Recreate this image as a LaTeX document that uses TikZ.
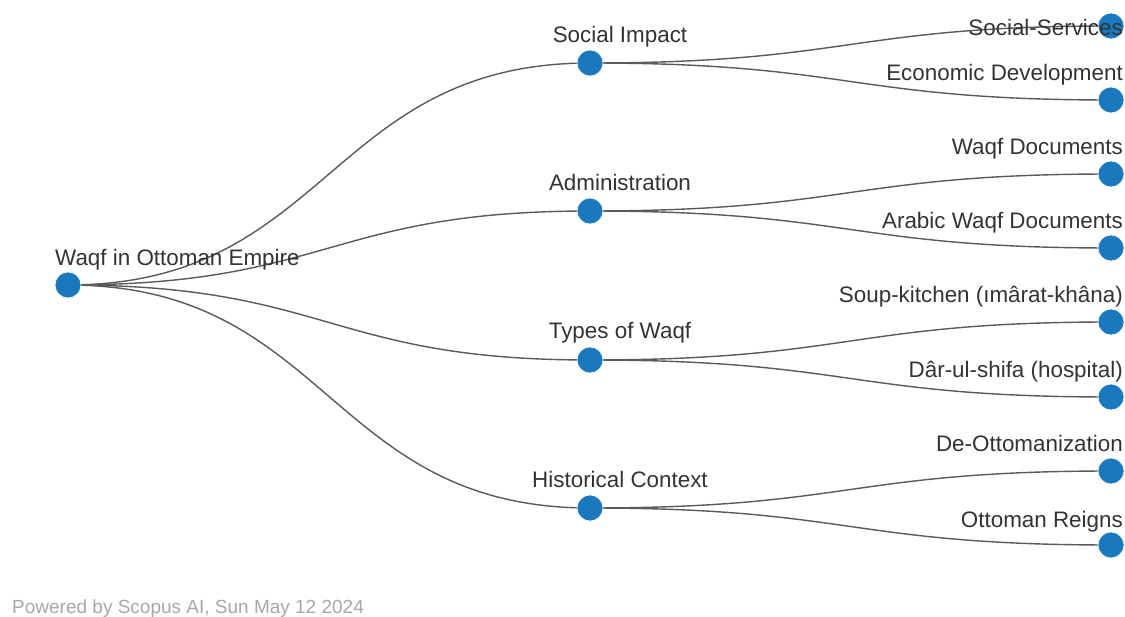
\documentclass[tikz,border=0pt]{standalone}
\usepackage{fontspec}
\setmainfont{Liberation Sans}
\usetikzlibrary{backgrounds,calc}
\definecolor{nodeblue}{HTML}{1A78BE}
\definecolor{edgegray}{HTML}{5A5A5A}
\definecolor{txt}{HTML}{333333}
\definecolor{foot}{HTML}{A8A8A8}
\tikzset{
  dot/.style={circle, fill=nodeblue, minimum size=26pt, inner sep=0pt, draw=white, line width=0.6pt},
  lbl/.style={text=txt, font=\fontsize{22.4}{26}\selectfont, inner sep=0pt},
  link/.style={draw=edgegray, line width=1.4pt,
    to path={let \p1=(\tikztostart), \p2=(\tikztotarget) in
      .. controls ({(\x1+\x2)/2},\y1) and ({(\x1+\x2)/2},\y2) .. (\tikztotarget)}},
}
\begin{document}
\begin{tikzpicture}[x=1pt,y=-1pt]
\useasboundingbox (0,0) rectangle (1125,617);
% nodes
\node[dot] (root) at (68,285) {};
\node[dot] (si) at (590,63) {};
\node[dot] (ad) at (590,211) {};
\node[dot] (tw) at (590,360) {};
\node[dot] (hc) at (590,508) {};
\node[dot] (ss) at (1111,26) {};
\node[dot] (ed) at (1111,100) {};
\node[dot] (wd) at (1111,174) {};
\node[dot] (aw) at (1111,248) {};
\node[dot] (sk) at (1111,322) {};
\node[dot] (ds) at (1111,397) {};
\node[dot] (deo) at (1111,471) {};
\node[dot] (or) at (1111,545) {};
% edges
\begin{pgfonlayer}{background}
\fill[white] (0,0) rectangle (1125,617);
\draw[link] (root.center) to (si.center);
\draw[link] (root.center) to (ad.center);
\draw[link] (root.center) to (tw.center);
\draw[link] (root.center) to (hc.center);
\draw[link] (si.center) to (ss.center);
\draw[link] (si.center) to (ed.center);
\draw[link] (ad.center) to (wd.center);
\draw[link] (ad.center) to (aw.center);
\draw[link] (tw.center) to (sk.center);
\draw[link] (tw.center) to (ds.center);
\draw[link] (hc.center) to (deo.center);
\draw[link] (hc.center) to (or.center);
\end{pgfonlayer}
% labels
\node[lbl, anchor=base west] (rootl) at (55,266) {Waqf in Ottoman Empire};
\node[lbl, anchor=base] (sil) at (620,43) {Social Impact};
\node[lbl, anchor=base] (adl) at (620,191) {Administration};
\node[lbl, anchor=base] (twl) at (620,339) {Types of Waqf};
\node[lbl, anchor=base] (hcl) at (620,487) {Historical Context};
\node[lbl, anchor=base east] (ssl) at (1123,36) {Social-Services};
\node[lbl, anchor=base east] (edl) at (1123,81) {Economic Development};
\node[lbl, anchor=base east] (wdl) at (1123,155) {Waqf Documents};
\node[lbl, anchor=base east] (awl) at (1123,229) {Arabic Waqf Documents};
\node[lbl, anchor=base east] (skl) at (1123,303) {Soup-kitchen (ımârat-khâna)};
\node[lbl, anchor=base east] (dsl) at (1123,378) {Dâr-ul-shifa (hospital)};
\node[lbl, anchor=base east] (deol) at (1123,452) {De-Ottomanization};
\node[lbl, anchor=base east] (orl) at (1123,527) {Ottoman Reigns};
\node[anchor=base west, inner sep=0pt, text=foot, font=\fontsize{19}{22}\selectfont] (footer) at (12,613) {Powered by Scopus AI, Sun May 12 2024};
\end{tikzpicture}
\end{document}
